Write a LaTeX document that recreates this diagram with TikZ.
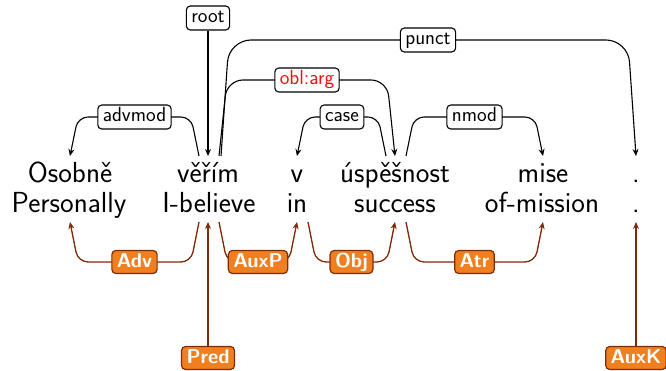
\documentclass[tikz,border=0pt]{standalone}
\usepackage{fontspec}
\usetikzlibrary{calc,arrows.meta,backgrounds}
\definecolor{labfill}{HTML}{F07F1F}
\definecolor{labline}{HTML}{7F2A08}
\definecolor{labred}{HTML}{F01010}
\begin{document}
\begin{tikzpicture}[x=1pt,y=-1pt,
  word/.style={font=\fontsize{29}{31}\selectfont\sffamily, inner sep=0pt, anchor=base},
  toplab/.style={draw=black, fill=white, rounded corners=4pt, line width=1.1pt,
    font=\fontsize{20.5}{22}\selectfont\sffamily, inner xsep=5pt, inner ysep=0pt,
    text height=14.5pt, text depth=4.5pt, minimum height=24pt},
  botlab/.style={draw=labline, fill=labfill, text=white, rounded corners=4pt, line width=1.2pt,
    font=\fontsize{20}{22}\selectfont\sffamily\bfseries, inner xsep=5pt, inner ysep=0pt,
    text height=14.5pt, text depth=4.5pt, minimum height=23pt},
  dep/.style={draw=black, line width=1.1pt, -{Stealth[length=7pt,width=6pt]}},
  bdep/.style={draw=labline, line width=1.3pt, -{Stealth[length=7pt,width=6pt]}}]
\useasboundingbox (0,0) rectangle (666,371);
% words
\node[word] (w1) at (70,183) {Osobně};
\node[word] (w2) at (208,183) {věřím};
\node[word] (w3) at (297,183) {v};
\node[word] (w4) at (395,183) {úspěšnost};
\node[word] (w5) at (543,183) {mise};
\node[word] (w6) at (636,183) {.};
\node[word] (g1) at (69,213) {Personally};
\node[word] (g2) at (209,213) {I-believe};
\node[word] (g3) at (297,213) {in};
\node[word] (g4) at (395,213) {success};
\node[word] (g5) at (542,213) {of-mission};
\node[word] (g6) at (636,213) {.};
% anchor points
\coordinate (t1) at (70,156);
\coordinate (t2) at (208,156);
\coordinate (t3) at (297,156);
\coordinate (t4) at (395,156);
\coordinate (t5) at (543,156);
\coordinate (t6) at (636,156);
\coordinate (b1) at (70,222);
\coordinate (b2) at (208,222);
\coordinate (b3) at (297,222);
\coordinate (b4) at (395,222);
\coordinate (b5) at (543,222);
\coordinate (b6) at (636,222);
% top labels
\node[toplab] (root) at (208,18) {root};
\node[toplab] (punct) at (428,40) {punct};
\node[toplab, text=labred] (oblarg) at (307,80) {obl:arg};
\node[toplab] (advmod) at (134.5,117) {advmod};
\node[toplab] (case) at (342,117) {case};
\node[toplab] (nmod) at (474.5,117) {nmod};
% bottom labels
\node[botlab] (Adv) at (134.5,262) {Adv};
\node[botlab] (AuxP) at (258,262) {AuxP};
\node[botlab] (Obj) at (351.5,262) {Obj};
\node[botlab] (Atr) at (474.5,262) {Atr};
\node[botlab] (Pred) at (208,358) {Pred};
\node[botlab] (AuxK) at (636,358) {AuxK};
\begin{scope}[on background layer]
% top edges
\draw[dep] (root) -- (t2);
\draw[dep, rounded corners=10pt] ($(t2)+(-9,0)$) -- ($(t2|-advmod)+(-17,0)$) -- ($(t1|-advmod)+(8,0)$) -- (t1);
\draw[dep, rounded corners=16pt] ($(t2)+(11,0)$) -- ($(t2|-oblarg)+(19,0)$) -- ($(t4|-oblarg)+(-8,0)$) -- (t4);
\draw[dep, rounded corners=22pt] ($(t2)+(13,0)$) -- ($(t2|-punct)+(21,0)$) -- ($(t6|-punct)+(-8,0)$) -- (t6);
\draw[dep, rounded corners=10pt] ($(t4)+(-9,0)$) -- ($(t4|-case)+(-17,0)$) -- ($(t3|-case)+(8,0)$) -- (t3);
\draw[dep, rounded corners=10pt] ($(t4)+(11,0)$) -- ($(t4|-nmod)+(19,0)$) -- ($(t5|-nmod)+(-8,0)$) -- (t5);
% bottom edges
\draw[bdep] (Pred) -- (b2);
\draw[bdep] (AuxK) -- (b6);
\draw[bdep, rounded corners=10pt] ($(b2)+(-9,0)$) -- ($(b2|-Adv)+(-17,0)$) -- ($(b1|-Adv)+(8,0)$) -- (b1);
\draw[bdep, rounded corners=10pt] ($(b2)+(11,0)$) -- ($(b2|-AuxP)+(19,0)$) -- ($(b3|-AuxP)+(-8,0)$) -- (b3);
\draw[bdep, rounded corners=10pt] ($(b3)+(11,0)$) -- ($(b3|-Obj)+(19,0)$) -- ($(b4|-Obj)+(-8,0)$) -- (b4);
\draw[bdep, rounded corners=10pt] ($(b4)+(11,0)$) -- ($(b4|-Atr)+(19,0)$) -- ($(b5|-Atr)+(-8,0)$) -- (b5);
\end{scope}
\end{tikzpicture}
\end{document}
